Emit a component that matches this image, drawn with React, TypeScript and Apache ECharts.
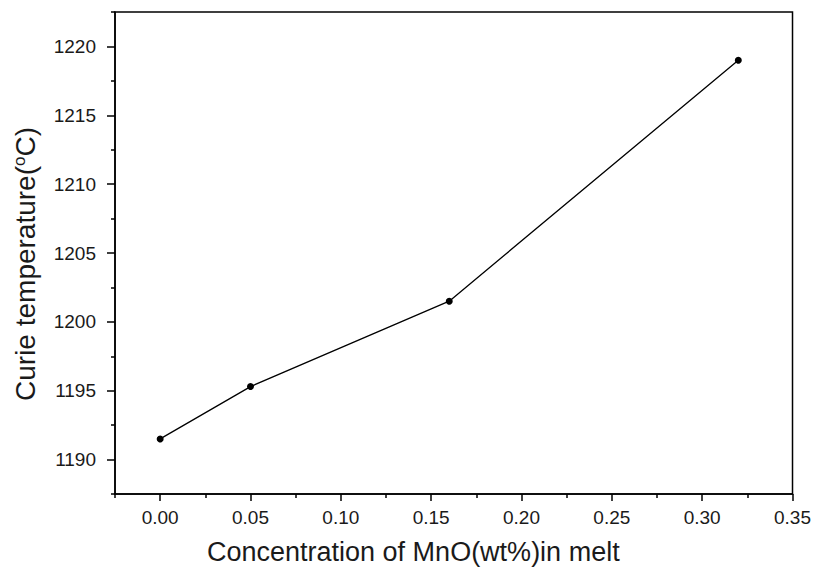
import React, { useEffect, useRef } from "react";
import * as echarts from "echarts";

const xValues = [0.0, 0.05, 0.16, 0.32];
const yValues = [1191.5, 1195.3, 1201.5, 1219.0];
const xMajorTicks = [0, 0.05, 0.1, 0.15, 0.2, 0.25, 0.3, 0.35];
const xMinorTicks = [-0.025, 0.025, 0.075, 0.125, 0.175, 0.225, 0.275, 0.325];
const yMajorTicks = [1190, 1195, 1200, 1205, 1210, 1215, 1220];
const yMinorTicks = [1187.5, 1192.5, 1197.5, 1202.5, 1207.5, 1212.5, 1217.5, 1222.5];
const xTitle = "Concentration of MnO(wt%)in melt";
const yTitleParts = ["Curie temperature(", "o", "C)"];

const FONT = "'Liberation Sans', Arial, sans-serif";
const TXT = "#1a1a1a";

export default function App() {
  const ref = useRef<HTMLDivElement>(null);
  useEffect(() => {
    if (!ref.current) return;
    const chart = echarts.init(ref.current, null, { renderer: "svg" });
    const xMin = -0.025, xMax = 0.35, yMin = 1187.5, yMax = 1222.5;
    const lineStyle = { color: "#000", width: 1.5 };
    chart.setOption({
      animation: false,
      backgroundColor: "#fff",
      grid: {
        left: 115, right: 19, top: 12, bottom: 75,
        show: true, borderColor: "#000", borderWidth: 1.5, backgroundColor: "transparent",
      },
      xAxis: [
        {
          type: "value", min: xMin, max: xMax, position: "bottom",
          axisLine: { show: true, onZero: false, lineStyle },
          axisTick: { show: true, length: 7, inside: false, customValues: xMajorTicks, lineStyle },
          axisLabel: {
            show: true, margin: 14, customValues: xMajorTicks,
            fontFamily: FONT, fontSize: 19, color: TXT,
            formatter: (v: number) => v.toFixed(2),
          },
          splitLine: { show: false },
        },
        {
          type: "value", min: xMin, max: xMax, position: "bottom",
          axisLine: { show: false, onZero: false },
          axisTick: { show: true, length: 4, inside: false, customValues: xMinorTicks, lineStyle },
          axisLabel: { show: false },
          splitLine: { show: false },
        },
      ],
      yAxis: [
        {
          type: "value", min: yMin, max: yMax, position: "left",
          axisLine: { show: true, onZero: false, lineStyle },
          axisTick: { show: true, length: 8, inside: false, customValues: yMajorTicks, lineStyle },
          axisLabel: {
            show: true, margin: 19, customValues: yMajorTicks,
            fontFamily: FONT, fontSize: 19, color: TXT,
            formatter: (v: number) => String(Math.round(v)),
          },
          splitLine: { show: false },
        },
        {
          type: "value", min: yMin, max: yMax, position: "left",
          axisLine: { show: false, onZero: false },
          axisTick: { show: true, length: 4, inside: false, customValues: yMinorTicks, lineStyle },
          axisLabel: { show: false },
          splitLine: { show: false },
        },
      ],
      graphic: [
        {
          type: "text", left: 457 - 250, top: 538,
          style: {
            text: xTitle, width: 500, align: "center",
            fontFamily: FONT, fontSize: 27, fill: TXT,
          },
        },
        {
          type: "text", x: 25, y: 264, rotation: Math.PI / 2,
          style: {
            text: `{a|${yTitleParts[0]}}{s|${yTitleParts[1]}}{a|${yTitleParts[2]}}`,
            align: "center", verticalAlign: "middle",
            rich: {
              a: { fontFamily: FONT, fontSize: 28, fill: TXT },
              s: { fontFamily: FONT, fontSize: 17, fill: TXT, verticalAlign: "top", padding: [0, 0, 12, 0] },
            },
          },
        },
      ],
      series: [
        {
          type: "line",
          xAxisIndex: 0, yAxisIndex: 0,
          data: xValues.map((x, i) => [x, yValues[i]]),
          symbol: "circle", symbolSize: 7,
          itemStyle: { color: "#000" },
          lineStyle: { color: "#000", width: 1.3 },
        },
      ],
    });
    return () => chart.dispose();
  }, []);
  return <div ref={ref} style={{ position: "fixed", left: 0, top: 0, width: 814, height: 569 }} />;
}
